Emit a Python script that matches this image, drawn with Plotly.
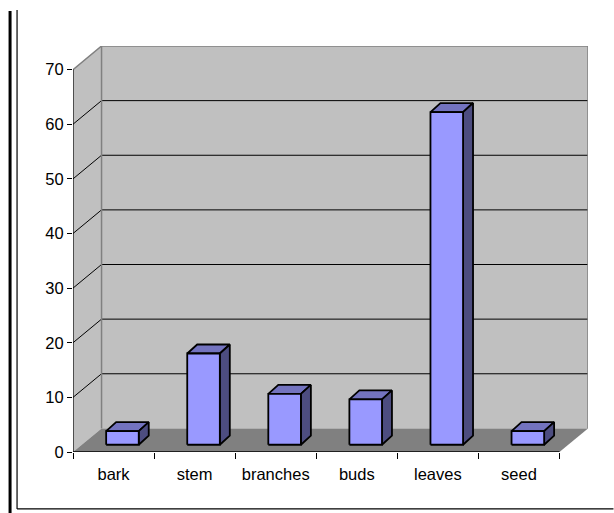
import plotly.graph_objects as go

categories = ["bark", "stem", "branches", "buds", "leaves", "seed"]
values = [2.5, 16.7, 9.3, 8.3, 60.9, 2.5]
y_ticks = [0, 10, 20, 30, 40, 50, 60, 70]

W, H = 614, 513
L, R, T, B = 73, 588.5, 46, 451.6
DX = 0.352      # wall depth, category units
DY = 4.32       # wall depth, value units
XMAX = len(categories)
YMAX = max(y_ticks)
BAR_W = 0.402
BAR_OX = 0.11
BAR_OY = 1.33
BAR_DX = 0.123
BAR_DY = 1.65
BAR_LINE = 1.8
WALL = "#C0C0C0"
FLOOR = "#808080"
FRONT = "#9999FF"
TOP = "#7373BF"
SIDE = "#4D4D80"


def poly(xs, ys, fill, line="rgba(0,0,0,0)", width=0):
    return go.Scatter(
        x=list(xs) + [xs[0]], y=list(ys) + [ys[0]], mode="lines", fill="toself",
        fillcolor=fill, line=dict(color=line, width=width), hoverinfo="skip",
        showlegend=False, cliponaxis=False,
    )


def seg(xs, ys, color="#000000", width=1):
    return go.Scatter(
        x=xs, y=ys, mode="lines", line=dict(color=color, width=width),
        hoverinfo="skip", showlegend=False, cliponaxis=False,
    )


fig = go.Figure()
# walls and floor
fig.add_trace(poly([0, DX, DX, 0], [0, DY, YMAX + DY, YMAX], WALL))
fig.add_trace(poly([DX, XMAX + DX, XMAX + DX, DX], [DY, DY, YMAX + DY, YMAX + DY], WALL))
fig.add_trace(poly([0, XMAX, XMAX + DX, DX], [0, 0, DY, DY], FLOOR))
# gridlines
for t in y_ticks:
    if 0 < t < YMAX:
        fig.add_trace(seg([0, DX, XMAX + DX], [t, t + DY, t + DY], "#000000", 1))
# wall borders
fig.add_trace(seg([DX, DX], [DY, YMAX + DY], "#808080", 1.5))
fig.add_trace(seg([0, DX, XMAX + DX, XMAX + DX], [YMAX, YMAX + DY, YMAX + DY, DY], "#808080", 1.5))
# bars
for i, v in enumerate(values):
    x0 = i + 0.5 + BAR_OX - BAR_W / 2
    x1 = x0 + BAR_W
    y0 = BAR_OY
    y1 = y0 + v
    fig.add_trace(poly([x0, x1, x1 + BAR_DX, x0 + BAR_DX], [y1, y1, y1 + BAR_DY, y1 + BAR_DY], TOP, "#000000", BAR_LINE))
    fig.add_trace(poly([x1, x1 + BAR_DX, x1 + BAR_DX, x1], [y0, y0 + BAR_DY, y1 + BAR_DY, y1], SIDE, "#000000", BAR_LINE))
    fig.add_trace(poly([x0, x1, x1, x0], [y0, y0, y1, y1], FRONT, "#000000", BAR_LINE))
# axes lines
fig.add_trace(seg([0, 0], [0, YMAX], "#000000", 1.2))
fig.add_trace(seg([0, XMAX], [0, 0], "#000000", 1.5))

FONT = dict(family="Liberation Sans, Arial, sans-serif", size=16.5, color="#000000")


def px(x):
    return (x - L) / (R - L)


def py(y):
    return (B - y) / (B - T)


frame = [
    (10, 11, 10, H, 3),
    (17, 10, 17, 508.5, 1.2),
    (17, 508.5, W, 508.5, 1.2),
]
shapes = [
    dict(type="line", xref="paper", yref="paper", x0=px(a), y0=py(b), x1=px(c), y1=py(d),
         line=dict(color="#000000", width=w))
    for a, b, c, d, w in frame
]

fig.update_layout(
    width=W, height=H, autosize=False,
    margin=dict(l=L, r=W - R, t=T, b=H - B, pad=0),
    paper_bgcolor="#FFFFFF", plot_bgcolor="rgba(0,0,0,0)",
    showlegend=False, shapes=shapes,
    xaxis=dict(
        range=[0, XMAX + DX], showgrid=False, zeroline=False, showline=False, fixedrange=True,
        tickmode="array", tickvals=[i + 0.5 for i in range(XMAX)], ticktext=categories,
        ticks="outside", ticklen=7, tickcolor="rgba(0,0,0,0)", tickfont=FONT,
        minor=dict(tickmode="array", tickvals=list(range(XMAX + 1)), ticks="outside", ticklen=6,
                   tickcolor="#000000", tickwidth=1.2, showgrid=False),
    ),
    yaxis=dict(
        range=[0, YMAX + DY], showgrid=False, zeroline=False, showline=False, fixedrange=True,
        tickmode="array", tickvals=y_ticks, ticktext=[str(t) for t in y_ticks],
        ticks="outside", ticklen=5, tickcolor="#000000", tickwidth=1.2, tickfont=FONT,
    ),
)

fig.write_html("out.html", config=dict(displayModeBar=False),
               post_script="document.body.style.margin='0';document.body.style.overflow='hidden';")
